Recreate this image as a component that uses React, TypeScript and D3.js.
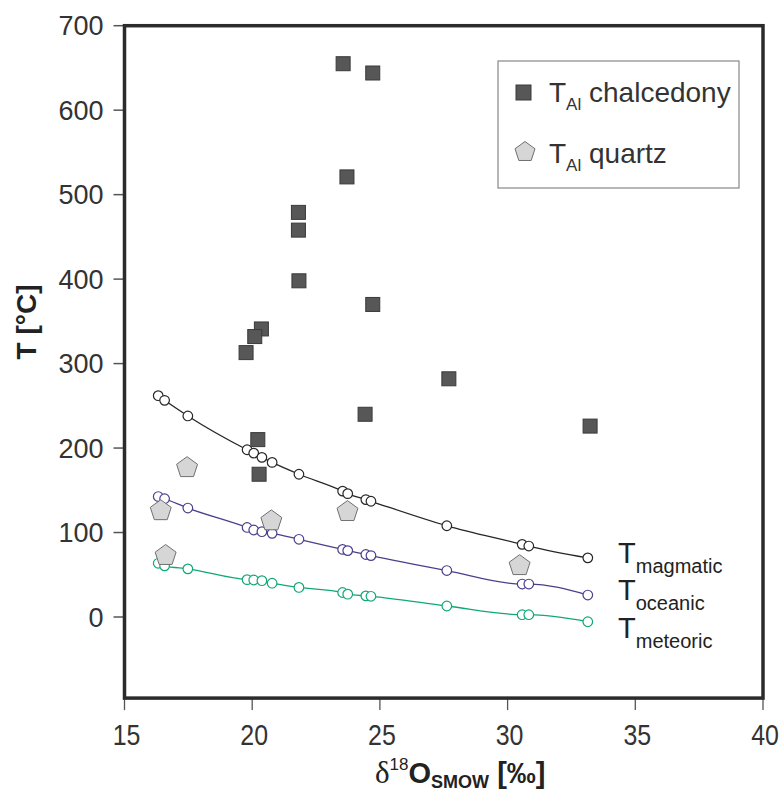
import React from "react";
import * as d3 from "d3";

// ---- data ----
const xTicks = [15, 20, 25, 30, 35, 40];
const yTicks = [0, 100, 200, 300, 400, 500, 600, 700];

// δ18O positions of the model-curve points
const curveX = [16.32, 16.57, 17.48, 19.8, 20.06, 20.38, 20.78, 21.83, 23.54, 23.74, 24.45, 24.65, 27.62, 30.57, 30.83, 33.14];
const magmatic = [262, 256.5, 238, 198, 194, 189, 183, 169, 149, 146, 139, 137, 108, 86, 84, 70];
const oceanic = [142.6, 140, 129, 106, 103, 101, 99, 92, 80, 78.6, 74, 72.7, 55, 39, 39, 26];
const meteoric = [63.6, 60.5, 57, 44.2, 43.8, 43, 40, 35, 29, 27, 25, 24.5, 13, 2.7, 2.7, -5.6];

const chalcX = [23.56, 24.72, 23.71, 21.81, 21.81, 21.83, 24.72, 20.36, 20.1, 19.76, 20.22, 20.27, 24.42, 27.7, 33.23];
const chalcT = [655, 644, 521, 479, 458, 398, 370, 341, 332, 313, 210, 169, 240, 282, 226];

const quartzX = [17.45, 16.42, 20.75, 23.73, 16.61, 30.47];
const quartzT = [178, 127, 115, 126, 74, 62];

const curves = [
  { name: "magmatic", values: magmatic, color: "#262626" },
  { name: "oceanic", values: oceanic, color: "#4a3f8c" },
  { name: "meteoric", values: meteoric, color: "#10a877" },
];

const W = 781;
const H = 794;
const xMin = 15, xMax = 40, yMin = -96, yTop = 700;

const x = d3.scaleLinear().domain([15, 40]).range([124.5, 763]);
const y = d3.scaleLinear().domain([0, 700]).range([617, 25.7]);

const FONT = "'Liberation Sans', Arial, Helvetica, sans-serif";

function pentagonPath(cx: number, cy: number, R: number) {
  const c = cy + 0.0955 * R;
  const pts = d3.range(5).map((k) => {
    const a = (-90 + 72 * k) * (Math.PI / 180);
    return [cx + R * Math.cos(a), c + R * Math.sin(a)];
  });
  return "M" + pts.map((p) => p.join(",")).join("L") + "Z";
}

export default function App() {
  const line = d3
    .line<number>()
    .x((_, i) => x(curveX[i]))
    .y((d) => y(d))
    .curve(d3.curveMonotoneX);

  const left = x(xMin), right = x(xMax), top = y(yTop), bottom = y(yMin);
  const labelBase = [563, 600, 638];

  return (
    <svg width={W} height={H} style={{ position: "absolute", left: 0, top: 0, background: "#fff" }} fontFamily={FONT}>
      <rect x={0} y={0} width={W} height={H} fill="#fff" />

      {/* y ticks */}
      {yTicks.map((t) => (
        <g key={"y" + t}>
          <line x1={left - 11} x2={left} y1={y(t)} y2={y(t)} stroke="#555" strokeWidth={1.5} />
          <text x={left - 21} y={y(t)} dy="0.36em" textAnchor="end" fontSize={27} fill="#333">
            {t}
          </text>
        </g>
      ))}

      {/* x ticks */}
      {xTicks.map((t) => (
        <g key={"x" + t}>
          <line x1={x(t)} x2={x(t)} y1={bottom} y2={bottom + 12} stroke="#555" strokeWidth={1.3} />
          <text
            transform={`translate(${x(t) + 2},745) scale(0.86,1)`}
            textAnchor="middle"
            fontSize={29}
            fill="#333"
          >
            {t}
          </text>
        </g>
      ))}

      {/* frame */}
      <rect x={left} y={top} width={right - left} height={bottom - top} fill="none" stroke="#2b2b2b" strokeWidth={3.5} />

      {/* model curves */}
      {curves.map((c) => (
        <g key={c.name}>
          <path d={line(c.values) || ""} fill="none" stroke={c.color} strokeWidth={1.3} />
          {c.values.map((v, i) => (
            <circle key={i} cx={x(curveX[i])} cy={y(v)} r={4.8} fill="#fff" stroke={c.color} strokeWidth={1.2} />
          ))}
        </g>
      ))}

      {/* quartz */}
      {quartzX.map((qx, i) => (
        <path key={"q" + i} d={pentagonPath(x(qx), y(quartzT[i]), 11)} fill="#d6d6d6" stroke="#707070" strokeWidth={1} />
      ))}

      {/* chalcedony */}
      {chalcX.map((cx, i) => (
        <rect key={"c" + i} x={x(cx) - 7} y={y(chalcT[i]) - 7} width={14} height={14} fill="#575757" stroke="#3a3a3a" strokeWidth={1} />
      ))}

      {/* curve labels */}
      {curves.map((c, i) => (
        <text key={"l" + c.name} x={618} y={labelBase[i]} fill="#222" fontSize={29}>
          T
          <tspan fontSize={20} dy={10}>{c.name}</tspan>
        </text>
      ))}

      {/* legend */}
      <rect x={498} y={61} width={241} height={127} fill="#fff" stroke="#888" strokeWidth={1.2} />
      <rect x={516} y={85} width={15} height={15} fill="#575757" stroke="#3a3a3a" strokeWidth={1} />
      <text x={549} y={102} fontSize={28} fill="#333">
        T<tspan fontSize={17} dy={8}>Al</tspan>
        <tspan dy={-8}> chalcedony</tspan>
      </text>
      <path d={pentagonPath(525, 151, 10.5)} fill="#d6d6d6" stroke="#707070" strokeWidth={1} />
      <text x={549} y={163} fontSize={28} fill="#333">
        T<tspan fontSize={17} dy={8}>Al</tspan>
        <tspan dy={-8}> quartz</tspan>
      </text>

      {/* axis titles */}
      <text transform="translate(36,322) rotate(-90)" textAnchor="middle" fontSize={28} fontWeight="bold" fill="#222">
        T [°C]
      </text>
      <text x={375} y={783} fill="#222" fontSize={29}>
        <tspan fontFamily="'Liberation Serif', 'Times New Roman', serif" fontSize={31}>δ</tspan>
        <tspan fontSize={17} dy={-13}>18</tspan>
        <tspan fontWeight="bold" dy={13}>O</tspan>
        <tspan fontWeight="bold" fontSize={18} dy={5}>SMOW</tspan>
        <tspan fontWeight="bold" dy={-5}> [‰]</tspan>
      </text>
    </svg>
  );
}
